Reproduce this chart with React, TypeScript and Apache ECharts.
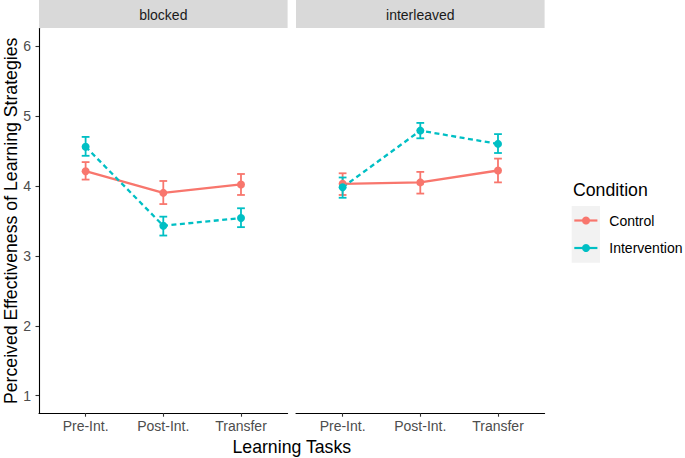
import React, { useEffect, useRef } from "react";
import * as echarts from "echarts";

// ---- data ----
const tasks = ["Pre-Int.", "Post-Int.", "Transfer"];
const panels = ["blocked", "interleaved"];
const conditions = ["Control", "Intervention"];
const yTicks = [1, 2, 3, 4, 5, 6];

const blockedControlMean = [4.21, 3.9, 4.02];
const blockedControlLow = [4.09, 3.74, 3.87];
const blockedControlHigh = [4.34, 4.07, 4.17];

const blockedInterventionMean = [4.56, 3.43, 3.54];
const blockedInterventionLow = [4.43, 3.29, 3.41];
const blockedInterventionHigh = [4.7, 3.56, 3.68];

const interleavedControlMean = [4.03, 4.05, 4.22];
const interleavedControlLow = [3.87, 3.89, 4.05];
const interleavedControlHigh = [4.18, 4.2, 4.39];

const interleavedInterventionMean = [3.98, 4.79, 4.6];
const interleavedInterventionLow = [3.83, 4.68, 4.47];
const interleavedInterventionHigh = [4.12, 4.9, 4.74];

// ---- styling ----
const FONT = "'Liberation Sans', Arial, sans-serif";
const COLORS = ["#F8766D", "#00BFC4"];
const LINE_TYPES: any[] = ["solid", [5, 3.5]];

const GRID_TOP = 28.5;
const GRID_H = 384.7;
const GRID_W = 248.6;
const GRID_LEFT = [39, 296];

const panelData = [
  [
    { mean: blockedControlMean, low: blockedControlLow, high: blockedControlHigh },
    { mean: blockedInterventionMean, low: blockedInterventionLow, high: blockedInterventionHigh },
  ],
  [
    { mean: interleavedControlMean, low: interleavedControlLow, high: interleavedControlHigh },
    { mean: interleavedInterventionMean, low: interleavedInterventionLow, high: interleavedInterventionHigh },
  ],
];

export default function App() {
  const ref = useRef<HTMLDivElement>(null);

  useEffect(() => {
    if (!ref.current) return;
    const chart = echarts.init(ref.current, undefined, { renderer: "svg" });

    const grids = GRID_LEFT.map((left) => ({
      left,
      top: GRID_TOP,
      width: GRID_W,
      height: GRID_H,
      containLabel: false,
    }));

    const xAxes = panels.map((_, i) => ({
      type: "value",
      gridIndex: i,
      min: 0.4,
      max: 3.6,
      axisLine: { show: true, onZero: false, lineStyle: { color: "#000000", width: 1.1 } },
      axisTick: {
        show: true,
        customValues: [1, 2, 3],
        length: 3.5,
        lineStyle: { color: "#333333", width: 1.1 },
      },
      axisLabel: {
        show: true,
        customValues: [1, 2, 3],
        formatter: (v: number) => tasks[Math.round(v) - 1] ?? "",
        color: "#4D4D4D",
        fontSize: 14,
        fontFamily: FONT,
        margin: 6,
      },
      splitLine: { show: false },
    }));

    const yAxes = panels.map((_, i) => ({
      type: "value",
      gridIndex: i,
      min: 0.75,
      max: 6.25,
      axisLine: { show: i === 0, lineStyle: { color: "#000000", width: 1.1 } },
      axisTick: {
        show: i === 0,
        customValues: yTicks,
        length: 3.5,
        lineStyle: { color: "#333333", width: 1.1 },
      },
      axisLabel: {
        show: i === 0,
        customValues: yTicks,
        color: "#4D4D4D",
        fontSize: 14,
        fontFamily: FONT,
        margin: 8,
      },
      splitLine: { show: false },
    }));

    const series: any[] = [];
    panelData.forEach((groups, p) => {
      groups.forEach((g, c) => {
        const color = COLORS[c];
        series.push({
          type: "custom",
          name: conditions[c] + " error",
          xAxisIndex: p,
          yAxisIndex: p,
          encode: { x: 0, y: [1, 2] },
          data: tasks.map((_, k) => [k + 1, g.low[k], g.high[k]]),
          renderItem: (params: any, api: any) => {
            const x = api.value(0);
            const lo = api.coord([x, api.value(1)]);
            const hi = api.coord([x, api.value(2)]);
            const half = api.size([0.1, 0])[0] / 2;
            const st = { stroke: color, lineWidth: 1.8 };
            return {
              type: "group",
              children: [
                { type: "line", shape: { x1: lo[0], y1: lo[1], x2: hi[0], y2: hi[1] }, style: st },
                { type: "line", shape: { x1: lo[0] - half, y1: lo[1], x2: lo[0] + half, y2: lo[1] }, style: st },
                { type: "line", shape: { x1: hi[0] - half, y1: hi[1], x2: hi[0] + half, y2: hi[1] }, style: st },
              ],
            };
          },
          z: 2,
        });
        series.push({
          type: "line",
          name: conditions[c],
          xAxisIndex: p,
          yAxisIndex: p,
          data: tasks.map((_, k) => [k + 1, g.mean[k]]),
          symbol: "circle",
          symbolSize: 8,
          showSymbol: true,
          itemStyle: { color },
          lineStyle: { color, width: 2.3, type: LINE_TYPES[c] },
          z: 3,
        });
      });
    });

    const graphics: any[] = [];
    panels.forEach((name, i) => {
      graphics.push({
        type: "rect",
        shape: { x: GRID_LEFT[i], y: 0, width: GRID_W, height: 28 },
        style: { fill: "#D9D9D9" },
        silent: true,
      });
      graphics.push({
        type: "text",
        x: GRID_LEFT[i] + GRID_W / 2,
        y: 14.5,
        style: {
          text: name,
          fill: "#1A1A1A",
          font: `14px ${FONT}`,
          textAlign: "center",
          textVerticalAlign: "middle",
        },
      });
    });
    // axis titles
    graphics.push({
      type: "text",
      x: (GRID_LEFT[0] + GRID_LEFT[1] + GRID_W) / 2,
      y: 447,
      style: {
        text: "Learning Tasks",
        fill: "#000000",
        font: `17.7px ${FONT}`,
        textAlign: "center",
        textVerticalAlign: "middle",
      },
    });
    graphics.push({
      type: "text",
      x: 10.5,
      y: GRID_TOP + GRID_H / 2,
      rotation: Math.PI / 2,
      style: {
        text: "Perceived Effectiveness of Learning Strategies",
        fill: "#000000",
        font: `17.7px ${FONT}`,
        textAlign: "center",
        textVerticalAlign: "middle",
      },
    });
    // legend
    graphics.push({
      type: "text",
      x: 573,
      y: 189.5,
      style: {
        text: "Condition",
        fill: "#000000",
        font: `17.7px ${FONT}`,
        textAlign: "left",
        textVerticalAlign: "middle",
      },
    });
    graphics.push({
      type: "rect",
      shape: { x: 571.7, y: 206, width: 28.3, height: 56.7 },
      style: { fill: "#F2F2F2" },
    });
    conditions.forEach((name, c) => {
      const cy = 220.5 + c * 27.5;
      graphics.push({
        type: "line",
        shape: { x1: 574.3, y1: cy, x2: 597.4, y2: cy },
        style: { stroke: COLORS[c], lineWidth: 2.2 },
      });
      graphics.push({
        type: "circle",
        shape: { cx: 586, cy, r: 4 },
        style: { fill: COLORS[c] },
      });
      graphics.push({
        type: "text",
        x: 609.3,
        y: cy,
        style: {
          text: name,
          fill: "#000000",
          font: `14px ${FONT}`,
          textAlign: "left",
          textVerticalAlign: "middle",
        },
      });
    });

    chart.setOption({
      animation: false,
      backgroundColor: "#FFFFFF",
      textStyle: { fontFamily: FONT },
      grid: grids,
      xAxis: xAxes,
      yAxis: yAxes,
      series,
      graphic: graphics,
    });

    return () => chart.dispose();
  }, []);

  return (
    <div
      ref={ref}
      style={{ position: "absolute", left: 0, top: 0, width: 685, height: 458 }}
    />
  );
}
